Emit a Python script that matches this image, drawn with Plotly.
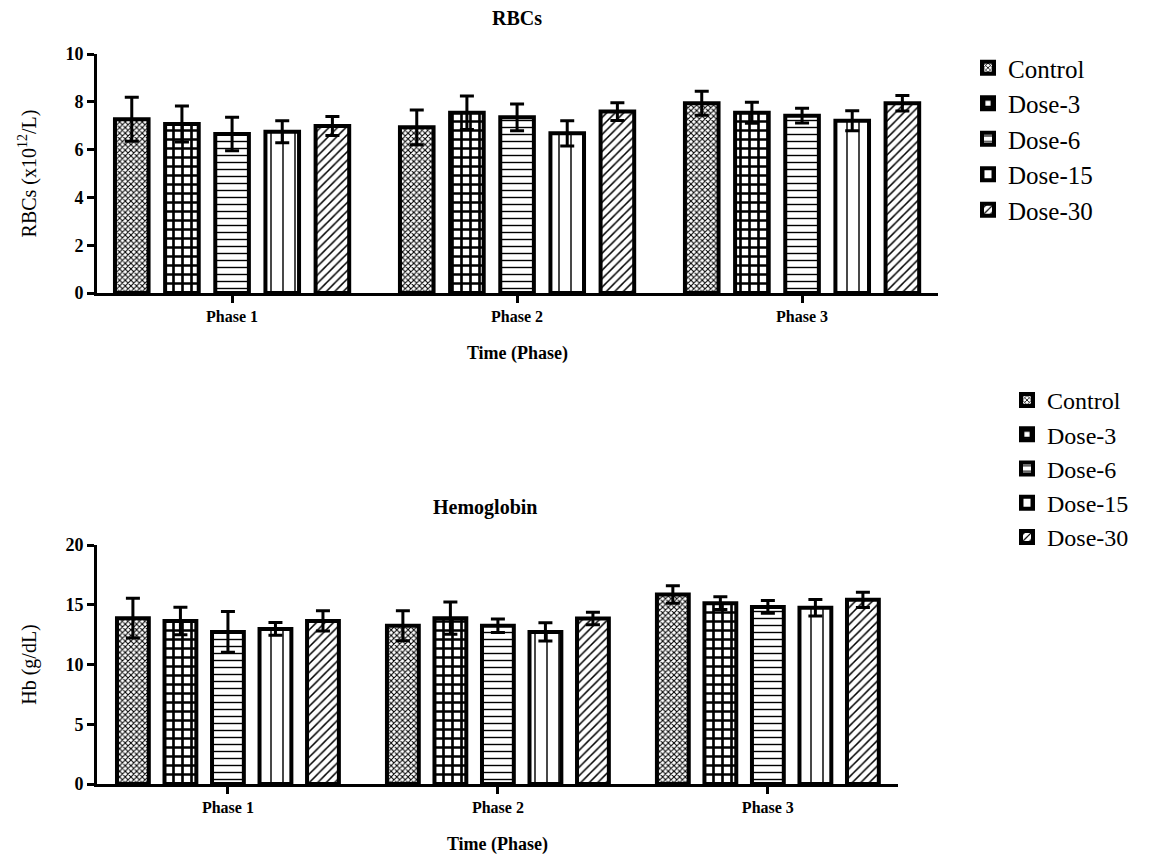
import plotly.graph_objects as go

phases = ["Phase 1", "Phase 2", "Phase 3"]
groups = ["Control", "Dose-3", "Dose-6", "Dose-15", "Dose-30"]

rbc_mean = {
    "Control": [7.27, 6.93, 7.94],
    "Dose-3": [7.07, 7.54, 7.54],
    "Dose-6": [6.65, 7.35, 7.42],
    "Dose-15": [6.75, 6.68, 7.21],
    "Dose-30": [6.99, 7.59, 7.94],
}
rbc_sd = {
    "Control": [0.92, 0.73, 0.50],
    "Dose-3": [0.75, 0.70, 0.44],
    "Dose-6": [0.70, 0.56, 0.31],
    "Dose-15": [0.46, 0.53, 0.42],
    "Dose-30": [0.40, 0.37, 0.32],
}
hb_mean = {
    "Control": [13.88, 13.24, 15.85],
    "Dose-3": [13.65, 13.88, 15.13],
    "Dose-6": [12.73, 13.24, 14.82],
    "Dose-15": [12.98, 12.73, 14.74],
    "Dose-30": [13.65, 13.85, 15.41],
}
hb_sd = {
    "Control": [1.67, 1.25, 0.73],
    "Dose-3": [1.15, 1.34, 0.53],
    "Dose-6": [1.70, 0.56, 0.53],
    "Dose-15": [0.53, 0.76, 0.69],
    "Dose-30": [0.84, 0.53, 0.64],
}

patterns = {
    "Control": dict(shape="x", size=4, solidity=0.45),
    "Dose-3": dict(shape="+", size=9, solidity=0.5),
    "Dose-6": dict(shape="-", size=7, solidity=0.2),
    "Dose-15": dict(shape="|", size=12, solidity=0.12),
    "Dose-30": dict(shape="/", size=6, solidity=0.25),
}

# page is 1171x858; the html body adds an 8px margin, so the figure is drawn 8px in
PAGE_W, PAGE_H, OFF = 1171, 858, 8
W, H = PAGE_W - OFF, PAGE_H - OFF
FONT = "Liberation Serif"

fig = go.Figure()

def add_bars(means, sds, xaxis, yaxis, legend):
    for g in groups:
        p = patterns[g]
        fig.add_trace(go.Bar(
            x=phases, y=means[g], name=g,
            xaxis=xaxis, yaxis=yaxis, legend=legend,
            marker=dict(color="white",
                        line=dict(color="black", width=4),
                        pattern=dict(shape=p["shape"], size=p["size"], solidity=p["solidity"],
                                     fgcolor="black", bgcolor="white", fillmode="replace")),
            error_y=dict(type="data", array=sds[g], symmetric=True, color="black",
                         thickness=3, width=7),
        ))

add_bars(rbc_mean, rbc_sd, "x", "y", "legend")
add_bars(hb_mean, hb_sd, "x2", "y2", "legend2")

def px_x(p):
    return (p - OFF) / W

def px_y(p):
    return 1 - (p - OFF) / H

axis_common = dict(showline=True, linecolor="black", linewidth=3, ticks="outside",
                   tickwidth=3, tickcolor="black", ticklen=7, showgrid=False, zeroline=False,
                   automargin=False,
                   tickfont=dict(family=FONT, size=18, color="black", weight="bold"))

xt = dict(axis_common)
xt["tickfont"] = dict(family=FONT, size=16, color="black", weight="bold")

fig.update_layout(
    template="none",
    width=W, height=H, plot_bgcolor="white", paper_bgcolor="white",
    margin=dict(l=0, r=0, t=0, b=0, pad=0, autoexpand=False),
    barmode="group", bargap=0.12, bargroupgap=0.33,
    font=dict(family=FONT, color="black"),
    showlegend=True,
    xaxis=dict(domain=[px_x(97), px_x(938)], anchor="y", range=[-0.474, 2.477],
               title=dict(text="<b>Time (Phase)</b>", font=dict(family=FONT, size=18), standoff=23),
               **xt),
    yaxis=dict(domain=[px_y(293), px_y(54)], anchor="x", range=[0, 10], dtick=2,
               title=dict(text="RBCs (x10<sup>12</sup>/L)", font=dict(family=FONT, size=20), standoff=24),
               **axis_common),
    xaxis2=dict(domain=[px_x(97), px_x(898)], anchor="y2", range=[-0.485, 2.482],
                title=dict(text="<b>Time (Phase)</b>", font=dict(family=FONT, size=18), standoff=23),
                **xt),
    yaxis2=dict(domain=[px_y(784), px_y(545)], anchor="x2", range=[0, 20], dtick=5,
                title=dict(text="Hb (g/dL)", font=dict(family=FONT, size=20), standoff=24),
                **axis_common),
    legend=dict(x=px_x(968), y=px_y(45), xanchor="left", yanchor="top",
                font=dict(family="Times New Roman", size=25, color="black"), tracegroupgap=0,
                itemwidth=30, bgcolor="rgba(0,0,0,0)"),
    legend2=dict(x=px_x(1007), y=px_y(378), xanchor="left", yanchor="top",
                 font=dict(family="serif", size=24, color="black"), tracegroupgap=0,
                 itemwidth=30, bgcolor="rgba(0,0,0,0)"),
    annotations=[
        dict(text="<b>RBCs</b>", x=px_x(517), y=px_y(18), xref="paper", yref="paper",
             xanchor="center", yanchor="middle",
             showarrow=False, font=dict(family=FONT, size=20, color="black")),
        dict(text="<b>Hemoglobin</b>", x=px_x(485), y=px_y(507), xref="paper", yref="paper",
             xanchor="center", yanchor="middle",
             showarrow=False, font=dict(family=FONT, size=20, color="black")),
    ],
)

fig.write_html("out.html")
